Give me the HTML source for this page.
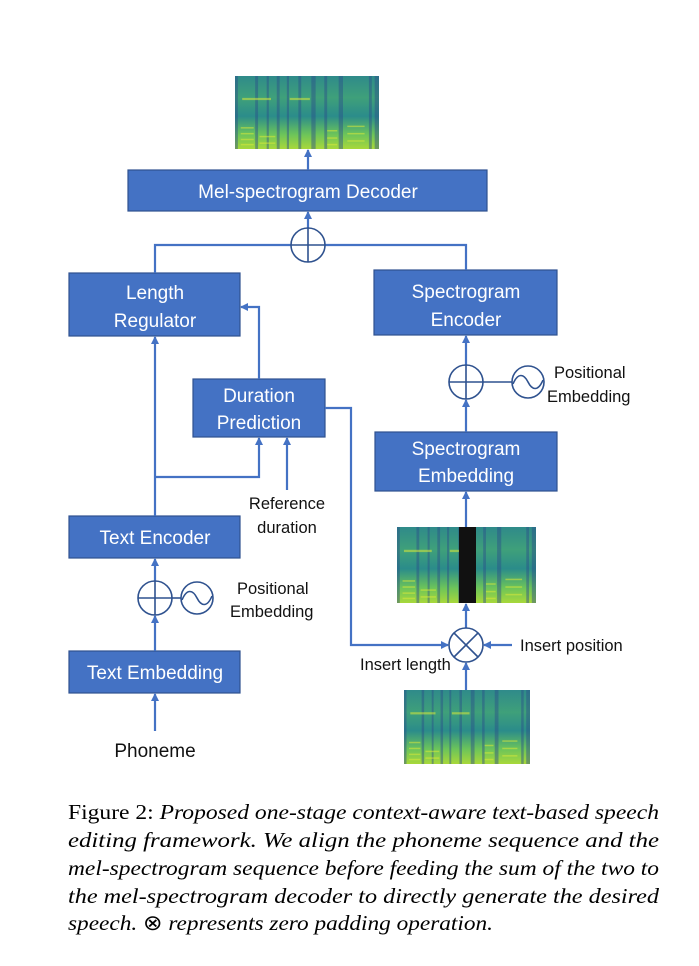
<!DOCTYPE html>
<html><head><meta charset="utf-8"><style>
html,body{margin:0;padding:0;background:#fff;}
svg{display:block;}
.b{fill:#4472C4;stroke:#2F528F;stroke-width:1.2;}
.bt{fill:#fff;font-family:"Liberation Sans",sans-serif;font-size:19px;text-anchor:middle;}
.l{stroke:#4472C4;stroke-width:2.2;fill:none;}
.c{stroke:#2F528F;stroke-width:1.6;fill:#fff;}
.k{fill:#111;font-family:"Liberation Sans",sans-serif;font-size:16.5px;}
.cap{font-family:"Liberation Serif",serif;font-size:21.5px;fill:#000;}
</style></head><body>
<svg width="699" height="966" viewBox="0 0 699 966">
<defs>
<marker id="a" markerWidth="8" markerHeight="8" refX="7" refY="4" orient="auto" markerUnits="userSpaceOnUse" viewBox="0 0 8 8">
<path d="M0,0 L8,4 L0,8 z" fill="#4472C4"/></marker>
<linearGradient id="sg" x1="0" y1="0" x2="0" y2="1">
<stop offset="0" stop-color="#2f8a8a"/><stop offset="0.3" stop-color="#3fa07a"/><stop offset="0.55" stop-color="#2b8c8a"/><stop offset="0.8" stop-color="#6cc45a"/><stop offset="1" stop-color="#a8d83a"/></linearGradient>
<g id="spec">
<rect x="0" y="0" width="100" height="100" fill="url(#sg)"/>
<g fill="#2a4f8a" opacity="0.45">
<rect x="0" y="0" width="2" height="100"/><rect x="14" y="0" width="2" height="100"/><rect x="22" y="0" width="1.5" height="100"/>
<rect x="29" y="0" width="2" height="100"/><rect x="36" y="0" width="1.5" height="100"/><rect x="44" y="0" width="2" height="100"/>
<rect x="53" y="0" width="3" height="100"/><rect x="62" y="0" width="2" height="100"/><rect x="72" y="0" width="3" height="100"/>
<rect x="93" y="0" width="2" height="100"/><rect x="97" y="0" width="3" height="100"/></g>
<g fill="#d8e83a" opacity="0.55">
<rect x="4" y="70" width="9" height="2"/><rect x="4" y="78" width="9" height="2"/><rect x="4" y="86" width="9" height="2"/><rect x="4" y="93" width="9" height="2"/>
<rect x="17" y="82" width="11" height="2"/><rect x="17" y="91" width="11" height="2"/>
<rect x="64" y="74" width="7" height="2"/><rect x="64" y="84" width="7" height="2"/><rect x="64" y="93" width="7" height="2"/>
<rect x="78" y="68" width="12" height="2"/><rect x="78" y="78" width="12" height="2"/><rect x="78" y="88" width="12" height="2"/>
<rect x="5" y="30" width="20" height="3"/><rect x="38" y="30" width="14" height="3"/></g>
</g>
</defs>

<use href="#spec" transform="translate(235,76) scale(1.44,0.73)"/>
<use href="#spec" transform="translate(397,527) scale(1.39,0.76)"/>
<rect x="459" y="527" width="17" height="76" fill="#111"/>
<use href="#spec" transform="translate(404,690) scale(1.26,0.74)"/>

<rect class="b" x="128" y="170" width="359" height="41"/>
<text class="bt" x="308" y="198">Mel-spectrogram Decoder</text>
<rect class="b" x="69" y="273" width="171" height="63"/>
<text class="bt" x="155" y="299">Length</text><text class="bt" x="155" y="327">Regulator</text>
<rect class="b" x="374" y="270" width="183" height="65"/>
<text class="bt" x="466" y="298">Spectrogram</text><text class="bt" x="466" y="326">Encoder</text>
<rect class="b" x="193" y="379" width="132" height="58"/>
<text class="bt" x="259" y="402">Duration</text><text class="bt" x="259" y="429">Prediction</text>
<rect class="b" x="375" y="432" width="182" height="59"/>
<text class="bt" x="466" y="455">Spectrogram</text><text class="bt" x="466" y="482">Embedding</text>
<rect class="b" x="69" y="516" width="171" height="42"/>
<text class="bt" x="155" y="544">Text Encoder</text>
<rect class="b" x="69" y="651" width="171" height="42"/>
<text class="bt" x="155" y="679">Text Embedding</text>

<line class="l" x1="308" y1="170" x2="308" y2="150" marker-end="url(#a)"/>
<line class="l" x1="308" y1="228" x2="308" y2="212" marker-end="url(#a)"/>
<polyline class="l" points="155,273 155,245 291,245"/>
<polyline class="l" points="466,270 466,245 325,245"/>
<polyline class="l" points="259,379 259,307 241,307" marker-end="url(#a)"/>
<line class="l" x1="155" y1="516" x2="155" y2="337" marker-end="url(#a)"/>
<polyline class="l" points="155,477 259,477 259,438" marker-end="url(#a)"/>
<line class="l" x1="287" y1="490" x2="287" y2="438" marker-end="url(#a)"/>
<polyline class="l" points="325,408 351,408 351,645 448,645" marker-end="url(#a)"/>
<line class="l" x1="512" y1="645" x2="484" y2="645" marker-end="url(#a)"/>
<line class="l" x1="466" y1="690" x2="466" y2="663" marker-end="url(#a)"/>
<line class="l" x1="466" y1="628" x2="466" y2="604" marker-end="url(#a)"/>
<line class="l" x1="466" y1="527" x2="466" y2="492" marker-end="url(#a)"/>
<line class="l" x1="466" y1="432" x2="466" y2="400" marker-end="url(#a)"/>
<line class="l" x1="466" y1="365" x2="466" y2="336" marker-end="url(#a)"/>
<line class="l" x1="155" y1="651" x2="155" y2="616" marker-end="url(#a)"/>
<line class="l" x1="155" y1="581" x2="155" y2="559" marker-end="url(#a)"/>
<line class="l" x1="155" y1="731" x2="155" y2="694" marker-end="url(#a)"/>

<circle class="c" cx="308" cy="245" r="17"/><path d="M291,245h34M308,228v34" stroke="#2F528F" stroke-width="1.6"/>
<line x1="483" y1="382" x2="512" y2="382" stroke="#2F528F" stroke-width="1.6"/>
<circle class="c" cx="466" cy="382" r="17"/><path d="M449,382h34M466,365v34" stroke="#2F528F" stroke-width="1.6"/>
<circle class="c" cx="528" cy="382" r="16"/><path d="M513,384 C518,372 524,374 528,382 C532,390 538,392 543,380" stroke="#2F528F" stroke-width="1.6" fill="none"/>
<line x1="172" y1="598" x2="181" y2="598" stroke="#2F528F" stroke-width="1.6"/>
<circle class="c" cx="155" cy="598" r="17"/><path d="M138,598h34M155,581v34" stroke="#2F528F" stroke-width="1.6"/>
<circle class="c" cx="197" cy="598" r="16"/><path d="M182,600 C187,588 193,590 197,598 C201,606 207,608 212,596" stroke="#2F528F" stroke-width="1.6" fill="none"/>
<circle class="c" cx="466" cy="645" r="17"/><path d="M454,633L478,657M478,633L454,657" stroke="#2F528F" stroke-width="1.6"/>

<text class="k" x="554" y="378">Positional</text><text class="k" x="547" y="402">Embedding</text>
<text class="k" x="287" y="509" text-anchor="middle">Reference</text><text class="k" x="287" y="533" text-anchor="middle">duration</text>
<text class="k" x="237" y="594">Positional</text><text class="k" x="230" y="617">Embedding</text>
<text class="k" x="520" y="651">Insert position</text>
<text class="k" x="360" y="670">Insert length</text>
<text class="k" x="155" y="757" text-anchor="middle" style="font-size:19px">Phoneme</text>

<text class="cap" x="68" y="819" textLength="591" lengthAdjust="spacingAndGlyphs">Figure 2: <tspan font-style="italic">Proposed one-stage context-aware text-based speech</tspan></text>
<text class="cap" x="68" y="847" textLength="591" lengthAdjust="spacingAndGlyphs" font-style="italic">editing framework.  We align the phoneme sequence and the</text>
<text class="cap" x="68" y="875" textLength="591" lengthAdjust="spacingAndGlyphs" font-style="italic">mel-spectrogram sequence before feeding the sum of the two to</text>
<text class="cap" x="68" y="903" textLength="591" lengthAdjust="spacingAndGlyphs" font-style="italic">the mel-spectrogram decoder to directly generate the desired</text>
<text class="cap" x="68" y="930" textLength="425" lengthAdjust="spacingAndGlyphs" font-style="italic">speech. <tspan font-style="normal">⊗</tspan> represents zero padding operation.</text>
</svg>
</body></html>
